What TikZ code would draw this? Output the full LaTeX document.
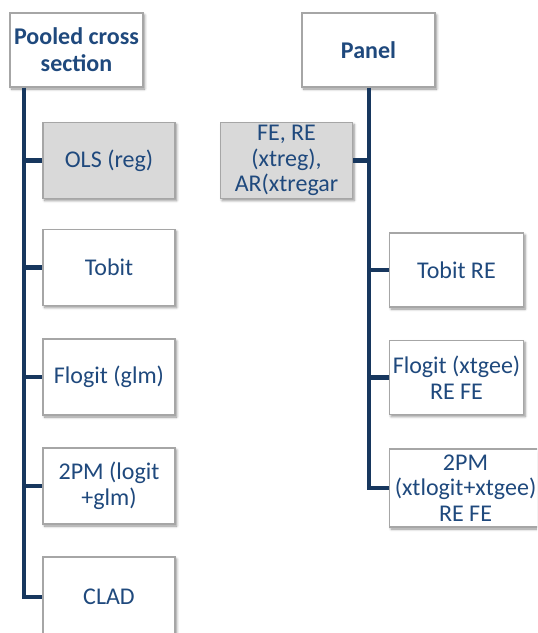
\documentclass[tikz,border=0pt]{standalone}
\usepackage{fontspec}
\setmainfont{Carlito}
\usetikzlibrary{shadows.blur}
\definecolor{txtblue}{HTML}{1F497D}
\definecolor{linenavy}{HTML}{17375E}
\definecolor{boxgray}{HTML}{D9D9D9}
\definecolor{edgegray}{HTML}{A6A6A6}
\tikzset{
  mbox/.style={draw=edgegray, line width=0.8pt, fill=white, rectangle,
    minimum width=132*0.75pt, minimum height=76*0.75pt, inner sep=1pt,
    align=center, text=txtblue, font=\fontsize{18}{19.3}\selectfont,
    blur shadow={shadow xshift=1.2pt, shadow yshift=-1.5pt, shadow blur steps=5, shadow opacity=45}},
  grbox/.style={mbox, fill=boxgray},
  hbox/.style={mbox, minimum width=133*0.75pt, minimum height=74*0.75pt, font=\fontsize{18}{20.3}\selectfont\bfseries},
  conn/.style={draw=linenavy, line width=3.2pt},
}
\begin{document}
\begin{tikzpicture}[x=0.75pt, y=-0.75pt]
\useasboundingbox (0,0) rectangle (537,633);
\clip (0,0) rectangle (537,633);
% left column
\node[hbox] (pool) at (76.5,50) {Pooled cross\\section};
\node[grbox] (ols) at (109,160.5) {OLS (reg)};
\node[mbox] (tob) at (109,267.5) {Tobit};
\node[mbox] (flog) at (109,377) {Flogit (glm)};
\node[mbox] (tpm) at (109,486) {2PM (logit\\+glm)};
\node[mbox, minimum height=80*0.75pt] (clad) at (109,597) {CLAD};
% right column
\node[hbox] (pan) at (368.5,50) {Panel};
\node[grbox] (fe) at (286.5,160.5) {FE, RE\\(xtreg),\\AR(xtregar};
\node[mbox, minimum width=134*0.75pt, minimum height=74*0.75pt] (tobre) at (456.5,270) {Tobit RE};
\node[mbox, minimum width=134*0.75pt, minimum height=74*0.75pt] (flogre) at (456.5,377.5) {Flogit (xtgee)\\RE FE};
\node[mbox, minimum width=152*0.75pt, minimum height=78*0.75pt, anchor=west] (tpmre) at (389,488) {2PM\\(xtlogit+xtgee)\\RE FE};
% connectors left
\coordinate (lt) at (24,0);
\draw[conn] (pool.south -| lt) -- (lt |- clad.west) -- (clad.west);
\draw[conn] (lt |- ols.west) -- (ols.west);
\draw[conn] (lt |- tob.west) -- (tob.west);
\draw[conn] (lt |- flog.west) -- (flog.west);
\draw[conn] (lt |- tpm.west) -- (tpm.west);
% connectors right
\coordinate (rt) at (369,0);
\draw[conn] (pan.south -| rt) -- (rt |- tpmre.west) -- (tpmre.west);
\draw[conn] (rt |- fe.east) -- (fe.east);
\draw[conn] (rt |- tobre.west) -- (tobre.west);
\draw[conn] (rt |- flogre.west) -- (flogre.west);
\end{tikzpicture}
\end{document}
